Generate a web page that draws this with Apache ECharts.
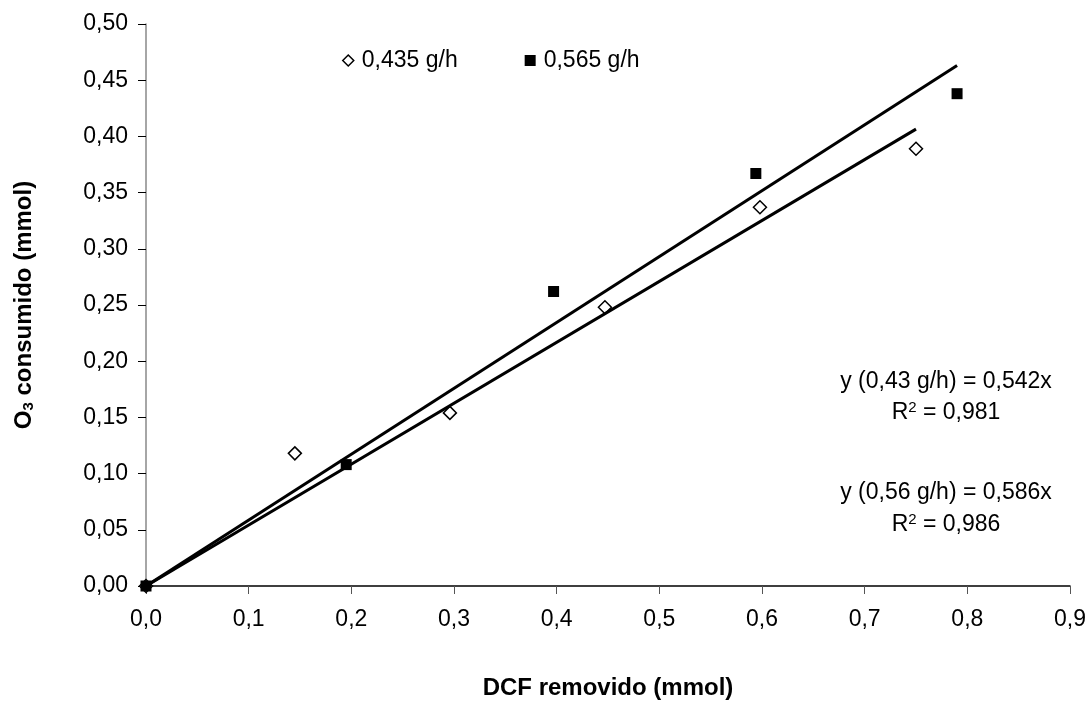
<!DOCTYPE html>
<html>
<head>
<meta charset="utf-8">
<script src="https://cdn.jsdelivr.net/npm/echarts@6/dist/echarts.min.js"></script>
<style>
html,body{margin:0;padding:0;background:#fff;}
#c{width:1089px;height:705px;}
</style>
</head>
<body>
<div id="c"></div>
<script>
var seriesNames = ['0,435 g/h', '0,565 g/h'];
var pts435 = [[0, 0], [0.145, 0.118], [0.296, 0.154], [0.447, 0.248], [0.598, 0.337], [0.75, 0.389]];
var pts565 = [[0, 0], [0.195, 0.108], [0.397, 0.262], [0.594, 0.367], [0.79, 0.438]];
var trend435 = [[0, 0], [0.75, 0.4065]];
var trend565 = [[0, 0], [0.79, 0.463]];
var eq435 = ['y (0,43 g/h) = 0,542x', '0,981'];
var eq565 = ['y (0,56 g/h) = 0,586x', '0,986'];

var FONT = '"Liberation Sans", Arial, sans-serif';
var chart = echarts.init(document.getElementById('c'), null, {renderer: 'canvas'});

function rLabel(v) { return 'R{sup|2} = ' + v; }

var option = {
  backgroundColor: '#fff',
  animation: false,
  textStyle: {fontFamily: FONT, color: '#000'},
  grid: {left: 146, right: 19, top: 24, bottom: 116, containLabel: false},
  legend: {
    data: [
      {name: seriesNames[0], icon: 'diamond', itemStyle: {color: '#fff', borderColor: '#000', borderWidth: 1.5, opacity: 1}},
      {name: seriesNames[1], icon: 'rect', itemStyle: {color: '#000', borderWidth: 0, opacity: 1}}
    ],
    left: 337, top: 44, itemWidth: 11, itemHeight: 11, itemGap: 67,
    textStyle: {fontFamily: FONT, fontSize: 23, color: '#000', padding: [0, 0, 0, 3]}
  },
  xAxis: {
    type: 'value', min: 0, max: 0.9, interval: 0.1,
    name: 'DCF removido (mmol)', nameLocation: 'middle', nameGap: 90,
    nameTextStyle: {fontFamily: FONT, fontSize: 24, fontWeight: 'bold', color: '#000'},
    axisLine: {show: true, onZero: false, lineStyle: {color: '#000', width: 1.5}},
    axisTick: {show: true, inside: false, length: 8, lineStyle: {color: '#555', width: 1}},
    axisLabel: {fontFamily: FONT, fontSize: 23, color: '#000', margin: 22,
      formatter: function (v) { return v.toFixed(1).replace('.', ','); }},
    splitLine: {show: false}
  },
  yAxis: {
    type: 'value', min: 0, max: 0.5, interval: 0.05,
    name: 'O{sub|3} consumido (mmol)', nameLocation: 'middle', nameGap: 110, nameRotate: 90,
    nameTextStyle: {fontFamily: FONT, fontSize: 24, fontWeight: 'bold', color: '#000',
      rich: {sub: {fontFamily: FONT, fontSize: 15, fontWeight: 'bold', color: '#000', verticalAlign: 'bottom', padding: [8, 0, 0, 0]}}},
    axisLine: {show: true, lineStyle: {color: '#888', width: 1.5}},
    axisTick: {show: true, inside: false, length: 8, lineStyle: {color: '#000', width: 1}},
    axisLabel: {fontFamily: FONT, fontSize: 23, color: '#000', margin: 18,
      formatter: function (v) { return v.toFixed(2).replace('.', ','); }},
    splitLine: {show: false}
  },
  series: [
    {name: seriesNames[0], type: 'scatter', data: pts435, symbol: 'diamond', symbolSize: 13,
      itemStyle: {color: '#fff', borderColor: '#000', borderWidth: 1.5, opacity: 1}, z: 3},
    {name: seriesNames[1], type: 'scatter', data: pts565, symbol: 'rect', symbolSize: 11,
      itemStyle: {color: '#000', opacity: 1}, z: 3},
    {name: 'trend435', type: 'line', data: trend435, symbol: 'none', lineStyle: {color: '#000', width: 3}, z: 4, silent: true},
    {name: 'trend565', type: 'line', data: trend565, symbol: 'none', lineStyle: {color: '#000', width: 3}, z: 4, silent: true}
  ]
};
chart.setOption(option);

var supRich = {sup: {fontFamily: FONT, fontSize: 15, color: '#000', verticalAlign: 'top', padding: [0, 0, 10, 0]}};
function txt(text, cx, cy) {
  return {type: 'text', x: cx, y: cy,
    style: {text: text, fontFamily: FONT, fontSize: 23, fill: '#000', align: 'center', verticalAlign: 'middle', rich: supRich}};
}
chart.setOption({graphic: [
  txt(eq435[0], 946, 382),
  txt(rLabel(eq435[1]), 946, 413),
  txt(eq565[0], 946, 493),
  txt(rLabel(eq565[1]), 946, 525)
]});
</script>
</body>
</html>
